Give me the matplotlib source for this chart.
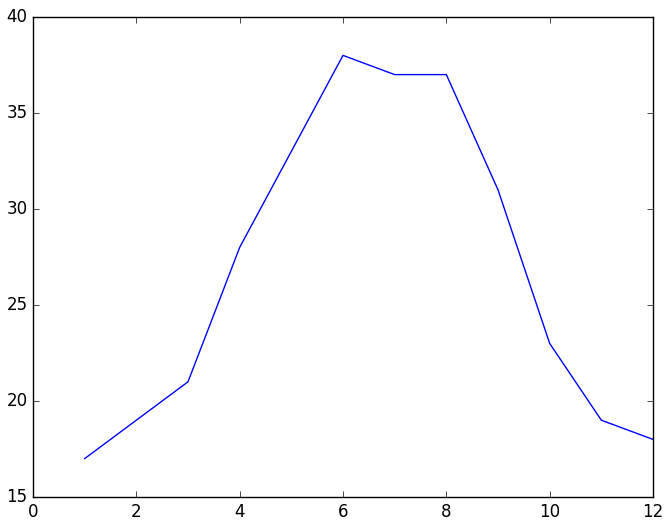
import matplotlib
matplotlib.use("Agg")
import matplotlib.pyplot as plt

months = [1, 2, 3, 4, 5, 6, 7, 8, 9, 10, 11, 12]
temps = [17, 19, 21, 28, 33, 38, 37, 37, 31, 23, 19, 18]

plt.style.use("classic")
fig = plt.figure(figsize=(6.69, 5.26), dpi=100, facecolor="white")
ax = fig.add_axes([33/669, 1-497/526, (653-33)/669, (497-17)/526])
ax.plot(months, temps, "b-")
ax.set_xlim(0, 12)
ax.set_ylim(15, 40)
ax.set_xticks([0, 2, 4, 6, 8, 10, 12])
ax.set_yticks([15, 20, 25, 30, 35, 40])
fig.savefig("out.png", dpi=100, facecolor="white")
